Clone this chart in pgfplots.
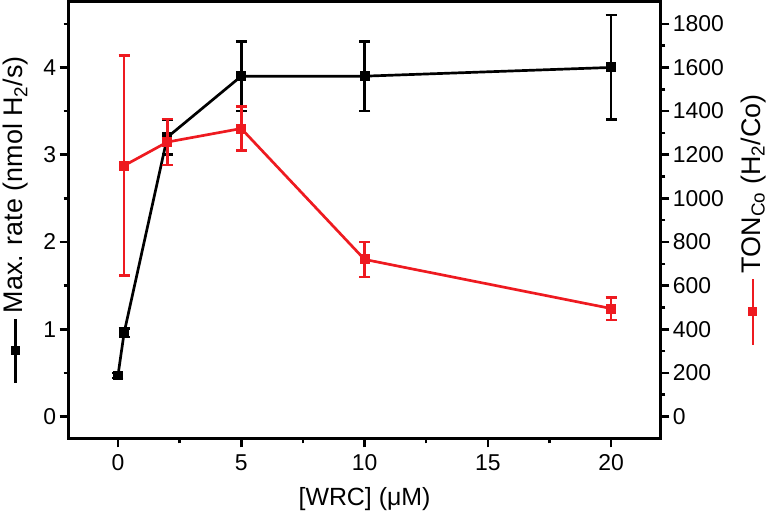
\documentclass[border=0pt]{standalone}
\usepackage{fontspec}
\setmainfont{Liberation Sans}
\usepackage{pgfplots}
\pgfplotsset{compat=1.18}
\definecolor{myred}{RGB}{238,26,32}
\pgfplotstableread{
x y e
0 0.47 0.03
0.25 0.96 0.05
2 3.2 0.2
5 3.9 0.4
10 3.9 0.4
20 4.0 0.6
}\rate
\pgfplotstableread{
x y e
0.25 1150 505
2 1258 105
5 1320 100
10 720 80
20 495 52
}\ton
\begin{document}
\begin{tikzpicture}
\pgfplotsset{
  common/.style={
    width=594pt, height=438pt, scale only axis,
    xmin=-2, xmax=22,
    axis line style={-, line width=3pt},
    every tick/.style={line width=2.6pt, black},
    major tick length=9pt, minor tick length=5pt,
    tick align=outside,
    tick label style={font=\fontsize{23}{26}\selectfont},
    ylabel style={font=\fontsize{27}{30}\selectfont},
    xlabel style={font=\fontsize{25}{28}\selectfont},
    /pgf/number format/assume math mode=true,
    /pgf/number format/1000 sep={},
  },
  myplot/.style={line width=2.7pt, mark=square*, mark size=4pt, mark options={line width=2pt},
    error bars/.cd, y dir=both, y explicit,
    error bar style={line width=2.7pt},
    error mark options={rotate=90, mark size=5.5pt, line width=2.7pt}},
}
\begin{axis}[common, name=main,
  ymin=-0.25, ymax=4.75,
  xtick={0,5,10,15,20}, minor xtick={2.5,7.5,12.5,17.5},
  ytick={0,1,2,3,4}, minor ytick={0.5,1.5,2.5,3.5,4.5},
  tick pos=left,
  xticklabel style={yshift=-4pt},
  xlabel={[WRC] (μM)},
  xlabel style={at={(rel axis cs:0.5,0)}, anchor=center, yshift=-61pt},
  ylabel={\tikz[baseline=-0.5ex]{\draw[line width=2.6pt] (0,0)--(64pt,0); \fill (32pt,0) +(-4.5pt,-4.5pt) rectangle +(4.5pt,4.5pt);}\,Max. rate (nmol H\textsubscript{2}/s)},
  ylabel style={at={(rel axis cs:0,0.5)}, anchor=center, yshift=53pt},
]
\addplot[black, myplot] table[x=x, y=y, y error=e] {\rate};
\end{axis}
\begin{axis}[common,
  ymin=-100, ymax=1900,
  xtick=\empty, minor xtick={},
  ytick={0,200,...,1800}, minor ytick={100,300,...,1700},
  ytick pos=right, yticklabel pos=right,
  ylabel={\tikz[baseline=-0.5ex]{\draw[myred, line width=2.6pt] (0,0)--(66pt,0); \fill[myred] (33pt,0) +(-4.5pt,-4.5pt) rectangle +(4.5pt,4.5pt);}\,TON\textsubscript{Co} (H\textsubscript{2}/Co)},
  ylabel style={at={(rel axis cs:1,0.5)}, anchor=center, yshift=-93pt},
]
\addplot[myred, myplot] table[x=x, y=y, y error=e] {\ton};
\end{axis}
\path ([shift={(-66pt,-81pt)}]main.south west) rectangle ([shift={(114pt,2pt)}]main.north east);
\end{tikzpicture}
\end{document}
